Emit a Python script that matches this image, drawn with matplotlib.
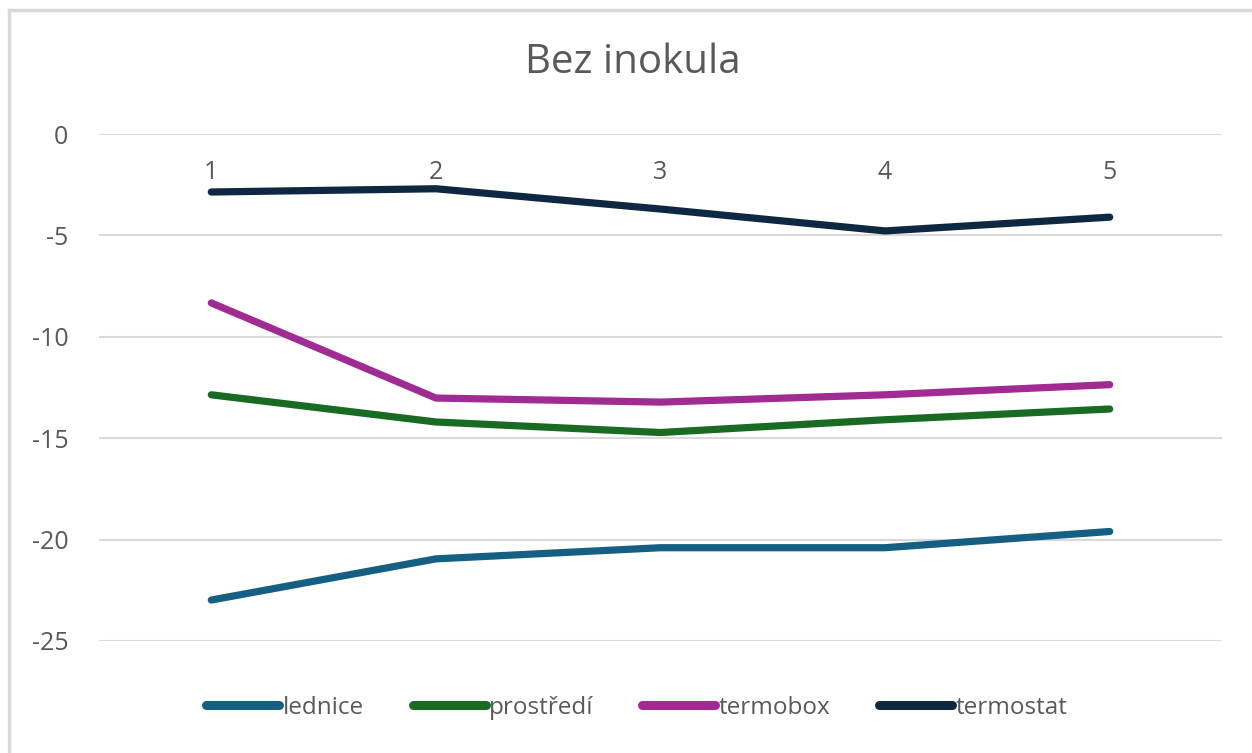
import matplotlib.pyplot as plt
from matplotlib.lines import Line2D

# data
categories = ["1", "2", "3", "4", "5"]
lednice = [-22.98, -20.95, -20.4, -20.4, -19.6]
prostredi = [-12.86, -14.2, -14.72, -14.09, -13.56]
termobox = [-8.33, -13.02, -13.22, -12.86, -12.36]
termostat = [-2.86, -2.7, -3.7, -4.78, -4.1]
y_ticks = [0, -5, -10, -15, -20, -25]

series = [
    ("lednice", lednice, "#156082"),
    ("prostředí", prostredi, "#196B24"),
    ("termobox", termobox, "#A02B93"),
    ("termostat", termostat, "#0E2841"),
]

plt.rcParams['font.family'] = ['Open Sans', 'DejaVu Sans']
grey = "#595959"

fig = plt.figure(figsize=(12.52, 7.53), dpi=100)
# chart frame: only the top and left edges are inside the picture
fx, fy = 8.5 / 1252, 1 - 10 / 753
fig.lines.append(Line2D([fx, 1.0], [fy, fy], transform=fig.transFigure,
                        color="#D9D9D9", linewidth=2.5))
fig.lines.append(Line2D([fx, fx], [0, fy], transform=fig.transFigure,
                        color="#D9D9D9", linewidth=2.5))

ax = fig.add_axes([99 / 1252, 1 - 641 / 753, (1222 - 99) / 1252, (641 - 134) / 753])
x = list(range(1, len(categories) + 1))
for name, vals, col in series:
    ax.plot(x, vals, color=col, linewidth=5.2, solid_capstyle='round',
            solid_joinstyle='round', label=name)

ax.set_xlim(0.5, 5.5)
ax.set_ylim(-25, 0)
ax.set_yticks(y_ticks)
ax.set_yticklabels([str(v) for v in y_ticks])
ax.grid(axis='y', color="#D9D9D9", linewidth=1.5)
ax.set_axisbelow(True)
for s in ax.spines.values():
    s.set_visible(False)

ax.set_xticks(x)
ax.set_xticklabels(categories)
ax.tick_params(axis='x', top=False, bottom=False, labeltop=True, labelbottom=False,
               pad=-37, labelsize=18, labelcolor=grey, length=0)
ax.tick_params(axis='y', length=0, pad=22, labelsize=18, labelcolor=grey)

fig.text(633 / 1252, 1 - 63 / 753, "Bez inokula", ha='center', va='center',
         fontsize=29, color=grey)

leg = fig.legend(loc='center', bbox_to_anchor=(637 / 1252, 1 - 708 / 753), ncol=4,
                 frameon=False, fontsize=17.5, handlelength=3.0, handletextpad=0.15,
                 columnspacing=2.0, labelcolor=grey)
for h in leg.get_lines():
    h.set_linewidth(6.5)
    h.set_solid_capstyle('round')

fig.savefig("out.png", dpi=100)
